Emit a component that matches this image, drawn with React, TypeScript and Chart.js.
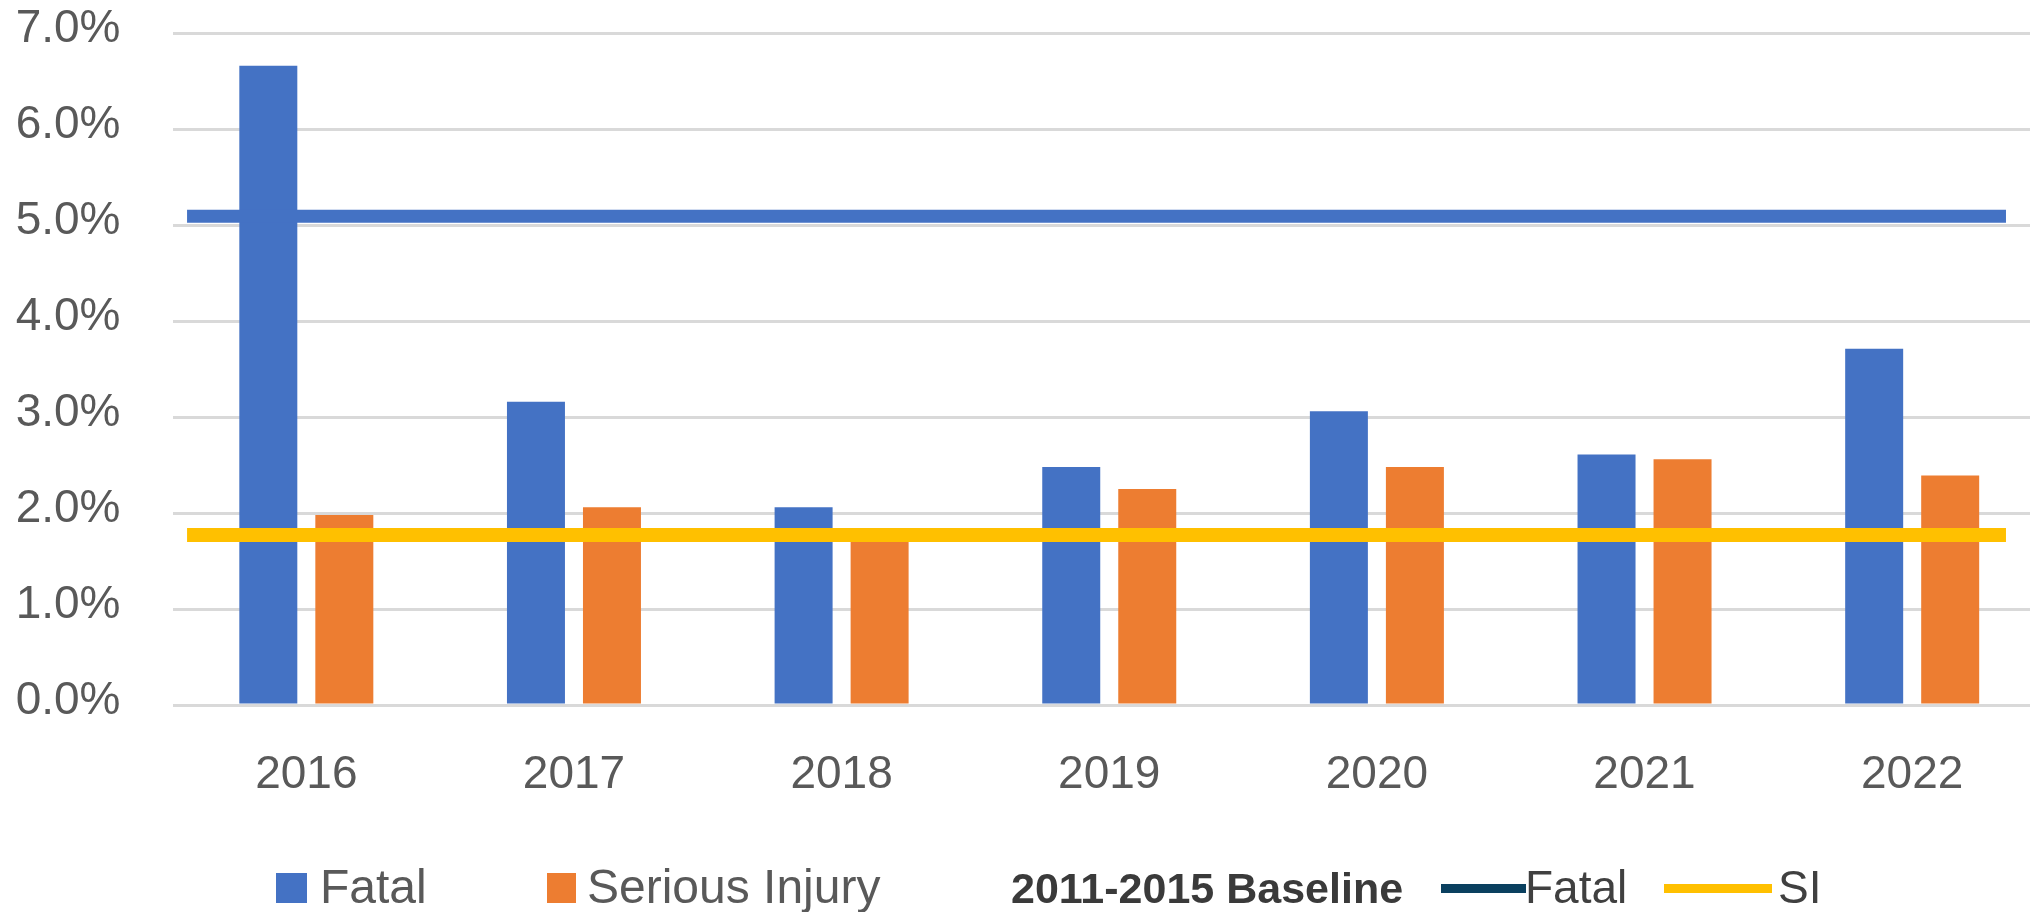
import React, { useEffect, useRef } from 'react';
import { Chart, registerables } from 'chart.js';

Chart.register(...registerables);

// ---- data ----
const years = ['2016', '2017', '2018', '2019', '2020', '2021', '2022'];
const fatalPct = [6.66, 3.16, 2.06, 2.48, 3.06, 2.61, 3.71];
const seriousInjuryPct = [1.98, 2.06, 1.76, 2.25, 2.48, 2.56, 2.39];
const baselineFatalPct = [5.09, 5.09];
const baselineSIPct = [1.77, 1.77];
const baselineSpan = [0, 1];
const yTickMax = 7;
const yTickStep = 1;

// ---- styles ----
const BLUE = '#4472C4';
const ORANGE = '#ED7D31';
const YELLOW = '#FFC000';
const NAVY = '#0A405F';
const GRID = '#D9D9D9';
const TEXT = '#595959';
const FONT_FAMILY = "'Liberation Sans', Arial, sans-serif";

// shared plot-area geometry (both canvases use the same chart area)
const AREA = { left: 172.5, top: 33, right: 4, bottom: 207 };
const CANVAS_W = 2050;
const CANVAS_H = 912;

const legendPlugin = {
  id: 'refLegend',
  afterDraw(chart: any) {
    const ctx = chart.ctx as CanvasRenderingContext2D;
    const ds = chart.data.datasets;
    const base = 903;
    ctx.save();
    ctx.textBaseline = 'alphabetic';
    ctx.textAlign = 'left';
    ctx.font = `48px ${FONT_FAMILY}`;

    ctx.fillStyle = ds[0].backgroundColor;
    ctx.fillRect(276, 873, 31, 30);
    ctx.fillStyle = TEXT;
    ctx.fillText(ds[0].label, 320, base);

    ctx.fillStyle = ds[1].backgroundColor;
    ctx.fillRect(547, 873, 29, 30);
    ctx.fillStyle = TEXT;
    ctx.fillText(ds[1].label, 587, base);

    ctx.font = `bold 43px ${FONT_FAMILY}`;
    ctx.fillStyle = '#3A3A3A';
    ctx.fillText('2011-2015 Baseline', 1011, base);

    ctx.lineCap = 'butt';
    ctx.strokeStyle = NAVY;
    ctx.lineWidth = 9;
    ctx.beginPath();
    ctx.moveTo(1441, 888.5);
    ctx.lineTo(1526, 888.5);
    ctx.stroke();
    ctx.font = `46px ${FONT_FAMILY}`;
    ctx.fillStyle = '#404040';
    ctx.fillText('Fatal', 1525, base);

    ctx.strokeStyle = YELLOW;
    ctx.lineWidth = 9;
    ctx.beginPath();
    ctx.moveTo(1664, 888.5);
    ctx.lineTo(1772, 888.5);
    ctx.stroke();
    ctx.fillStyle = '#404040';
    ctx.fillText('SI', 1778, base);
    ctx.restore();
  },
};

export default function App() {
  const barRef = useRef<HTMLCanvasElement>(null);
  const lineRef = useRef<HTMLCanvasElement>(null);

  useEffect(() => {
    if (!barRef.current || !lineRef.current) return;
    const tickFont = { family: FONT_FAMILY, size: 46 };

    const barChart = new Chart(barRef.current, {
      type: 'bar',
      data: {
        labels: years,
        datasets: [
          {
            label: 'Fatal',
            data: fatalPct,
            backgroundColor: BLUE,
            categoryPercentage: 0.568,
            barPercentage: 0.763,
          },
          {
            label: 'Serious Injury',
            data: seriousInjuryPct,
            backgroundColor: ORANGE,
            categoryPercentage: 0.568,
            barPercentage: 0.763,
          },
        ],
      },
      options: {
        responsive: false,
        animation: false,
        devicePixelRatio: 1,
        layout: { padding: { left: 0, top: AREA.top, right: AREA.right, bottom: 0 } },
        plugins: {
          legend: { display: false },
          tooltip: { enabled: false },
        },
        scales: {
          x: {
            type: 'category',
            offset: true,
            grid: { display: false, drawTicks: false },
            border: { display: false },
            ticks: {
              font: tickFont,
              color: TEXT,
              padding: 43,
              maxRotation: 0,
              autoSkip: false,
            },
            afterFit: (s: any) => {
              s.height = AREA.bottom;
              s.paddingLeft = 0;
              s.paddingRight = 0;
            },
          },
          y: {
            min: 0,
            max: yTickMax,
            grid: { color: GRID, lineWidth: 3, drawTicks: false },
            border: { display: false },
            ticks: {
              stepSize: yTickStep,
              font: tickFont,
              color: TEXT,
              padding: 52,
              labelOffset: -4,
              callback: (v: any) => Number(v).toFixed(1) + '%',
            },
            afterFit: (s: any) => {
              s.width = AREA.left;
              s.paddingTop = 0;
              s.paddingBottom = 0;
            },
          },
        },
      } as any,
      plugins: [legendPlugin],
    });

    // overlay chart: the 2011-2015 baseline lines, drawn on top of the bars
    const lineChart = new Chart(lineRef.current, {
      type: 'line',
      data: {
        datasets: [
          {
            label: '2011-2015 Baseline Fatal',
            data: baselineSpan.map((x, i) => ({ x, y: baselineFatalPct[i] })),
            borderColor: BLUE,
            borderWidth: 13,
            borderCapStyle: 'butt',
            pointRadius: 0,
            fill: false,
          },
          {
            label: '2011-2015 Baseline SI',
            data: baselineSpan.map((x, i) => ({ x, y: baselineSIPct[i] })),
            borderColor: YELLOW,
            borderWidth: 14,
            borderCapStyle: 'butt',
            pointRadius: 0,
            fill: false,
          },
        ],
      },
      options: {
        responsive: false,
        animation: false,
        devicePixelRatio: 1,
        layout: { padding: { left: AREA.left, top: AREA.top, right: AREA.right, bottom: AREA.bottom } },
        plugins: {
          legend: { display: false },
          tooltip: { enabled: false },
        },
        scales: {
          x: { type: 'linear', display: false, offset: false, min: -0.008, max: 1.022 },
          y: { type: 'linear', display: false, min: 0, max: yTickMax },
        },
      } as any,
    });

    return () => {
      barChart.destroy();
      lineChart.destroy();
    };
  }, []);

  const canvasStyle: React.CSSProperties = {
    position: 'absolute',
    left: 0,
    top: 0,
    display: 'block',
    width: CANVAS_W,
    height: CANVAS_H,
  };

  return (
    <div
      style={{
        position: 'absolute',
        left: 0,
        top: 0,
        width: 2030,
        height: 912,
        overflow: 'hidden',
        background: '#fff',
      }}
    >
      <canvas ref={barRef} width={CANVAS_W} height={CANVAS_H} style={canvasStyle} />
      <canvas ref={lineRef} width={CANVAS_W} height={CANVAS_H} style={canvasStyle} />
    </div>
  );
}
